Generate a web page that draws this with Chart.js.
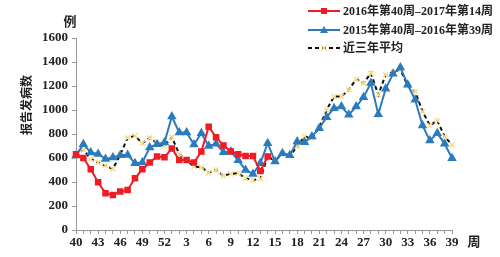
<!DOCTYPE html>
<html><head><meta charset="utf-8">
<script src="https://cdn.jsdelivr.net/npm/chart.js@4/dist/chart.umd.min.js"></script>
<style>html,body{margin:0;padding:0;background:#fff}#wrap{width:500px;height:257px;position:relative}</style>
</head><body><div id="wrap"><canvas id="c" width="500" height="257"></canvas></div>
<script>
const weeks = [40,41,42,43,44,45,46,47,48,49,50,51,52,1,2,3,4,5,6,7,8,9,10,11,12,13,14,15,16,17,18,19,20,21,22,23,24,25,26,27,28,29,30,31,32,33,34,35,36,37,38,39];
const shownTicks = [40,43,46,49,52,3,6,9,12,15,18,21,24,27,30,33,36,39];
const series2016 = [631,600,506,398,306,292,320,334,431,506,562,612,606,679,584,584,562,654,860,773,704,654,631,617,617,492,612];
const series2015 = [620,715,645,634,592,604,623,626,556,562,687,715,729,946,812,812,712,807,701,718,648,654,581,501,467,556,723,570,640,623,737,732,779,848,940,1015,1029,960,1029,1107,1224,965,1177,1302,1355,1210,1085,871,745,807,718,598];
const avg3yr = [612,668,592,562,537,509,626,768,784,723,768,723,701,773,634,579,529,523,478,501,453,467,473,431,417,426,612,576,640,618,695,779,762,857,1001,1113,1113,1168,1257,1224,1307,1127,1293,1313,1335,1202,1154,988,871,912,779,709];
const names = ['2016年第40周–2017年第14周','2015年第40周–2016年第39周','近三年平均'];

const FONT = '"Liberation Serif","Noto Sans CJK SC",serif';
const RED = '#ee1c24', BLUE = '#2b7bbd', YEL = '#f7df8a';

const extras = {
  id: 'extras',
  afterDraw(chart) {
    const ctx = chart.ctx;
    ctx.save();
    ctx.fillStyle = '#222';
    ctx.font = 'bold 13px ' + FONT;
    ctx.textBaseline = 'middle';
    ctx.textAlign = 'center';
    ctx.fillText('例', 70, 23);
    ctx.fillText('周', 474, 243);
    ctx.save();
    ctx.translate(28, 105);
    ctx.rotate(-Math.PI / 2);
    ctx.font = 'bold 12px ' + FONT;
    ctx.fillText('报告发病数', 0, 0);
    ctx.restore();
    // legend
    const ys = [11, 30, 48];
    chart.data.datasets.forEach((ds, i) => {
      const y = ys[i];
      ctx.strokeStyle = i === 2 ? '#111' : ds.borderColor;
      ctx.lineWidth = 2;
      ctx.setLineDash(i === 2 ? [4, 3] : []);
      ctx.beginPath(); ctx.moveTo(308, y); ctx.lineTo(340, y); ctx.stroke();
      ctx.setLineDash([]);
      ctx.fillStyle = ds.pointBackgroundColor;
      if (i === 0) { ctx.fillRect(321, y - 3, 6, 6); }
      else if (i === 1) { ctx.beginPath(); ctx.moveTo(324, y - 4); ctx.lineTo(328, y + 3); ctx.lineTo(320, y + 3); ctx.closePath(); ctx.fill(); }
      else { ctx.strokeStyle = YEL; ctx.lineWidth = 1.5; ctx.beginPath(); ctx.moveTo(321, y - 3); ctx.lineTo(327, y + 3); ctx.moveTo(327, y - 3); ctx.lineTo(321, y + 3); ctx.stroke(); }
      ctx.fillStyle = '#222';
      ctx.textAlign = 'left';
      ctx.font = 'bold 12px ' + FONT;
      ctx.fillText(names[i], 343, y + 1);
    });
    ctx.restore();
  }
};

new Chart(document.getElementById('c'), {
  type: 'line',
  data: {
    labels: weeks,
    datasets: [
      { label: names[0], data: series2016, borderColor: RED, backgroundColor: RED, pointBackgroundColor: RED, pointBorderColor: RED, pointStyle: 'rect', pointRadius: 3.2, borderWidth: 2, tension: 0, order: 1 },
      { label: names[1], data: series2015, borderColor: BLUE, backgroundColor: BLUE, pointBackgroundColor: BLUE, pointBorderColor: BLUE, pointStyle: 'triangle', pointRadius: 3.5, borderWidth: 2, tension: 0, order: 2 },
      { label: names[2], data: avg3yr, borderColor: '#111', backgroundColor: YEL, pointBackgroundColor: YEL, pointBorderColor: YEL, pointStyle: 'crossRot', pointRadius: 3.5, pointBorderWidth: 1.5, borderWidth: 2, borderDash: [4, 3], tension: 0, order: 3 }
    ]
  },
  options: {
    responsive: false,
    animation: false,
    events: [],
    layout: { padding: { left: 0, right: 48, top: 38, bottom: 0 } },
    plugins: { legend: { display: false }, tooltip: { enabled: false } },
    scales: {
      x: {
        offset: false,
        grid: { display: true, drawOnChartArea: false, drawTicks: true, tickLength: 4, color: '#999' },
        border: { color: '#999', width: 1 },
        ticks: {
          autoSkip: false, maxRotation: 0, padding: 1, color: '#222',
          font: { family: FONT, weight: 'bold', size: 13 },
          callback: function(v, i) { const w = weeks[i]; return (i % 3 === 0 && shownTicks.includes(w)) ? String(w) : ''; }
        },
        afterFit: s => { s.height = 27; }
      },
      y: {
        min: 0, max: 1600,
        grid: { display: true, drawOnChartArea: false, drawTicks: true, tickLength: 4, color: '#999' },
        border: { color: '#999', width: 1 },
        ticks: { stepSize: 200, padding: 4, color: '#222', font: { family: FONT, weight: 'bold', size: 13 }, callback: v => String(v) },
        afterFit: s => { s.width = 76; }
      }
    }
  },
  plugins: [extras]
});
</script></body></html>
